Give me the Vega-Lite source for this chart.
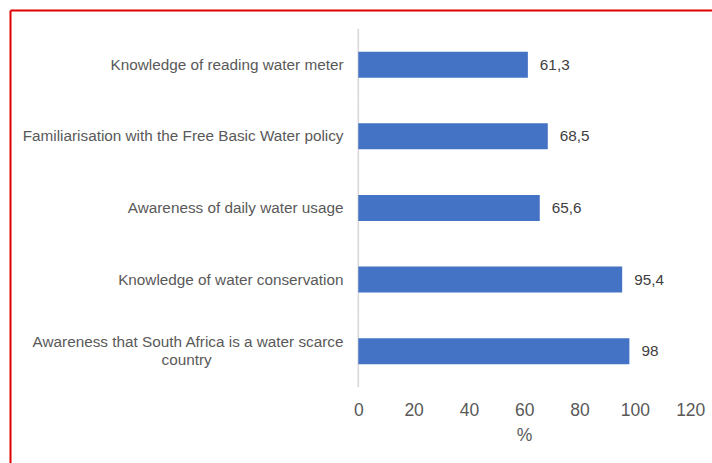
{
  "$schema": "https://vega.github.io/schema/vega-lite/v6.json",
  "autosize": "none",
  "padding": {"left": 10, "top": 10, "right": 0, "bottom": 0},
  "width": 702,
  "height": 453,
  "background": "white",
  "config": {
    "view": {"stroke": null},
    "font": "Liberation Sans",
    "locale": {"number": {"decimal": ",", "thousands": ".", "grouping": [3], "currency": ["", ""]}}
  },
  "data": {
    "values": [
      {"item": "Knowledge of reading water meter", "value": 61.3},
      {"item": "Familiarisation with the Free Basic Water policy", "value": 68.5},
      {"item": "Awareness of daily water usage", "value": 65.6},
      {"item": "Knowledge of water conservation", "value": 95.4},
      {"item": "Awareness that South Africa is a water scarce country", "value": 98}
    ]
  },
  "resolve": {"axis": {"x": "independent"}},
  "layer": [
    {
      "mark": {"type": "tick", "color": "#d9d9d9", "thickness": 1.6, "size": 71.8, "opacity": 1},
      "encoding": {
        "x": {
          "datum": 0,
          "type": "quantitative",
          "scale": {"domain": [-125.92, 127.87], "nice": false, "zero": false},
          "axis": {"orient": "top", "domain": true, "domainColor": "#e00000", "domainWidth": 2, "labels": false, "ticks": false, "grid": false, "title": null}
        },
        "y": {
          "field": "item",
          "type": "nominal",
          "sort": null,
          "scale": {"paddingInner": 0.637, "paddingOuter": 0.982, "align": 0.297},
          "axis": {
            "title": null,
            "domain": true,
            "domainColor": "#e00000",
            "domainWidth": 2,
            "ticks": false,
            "tickSize": 0,
            "labelPadding": -333,
            "labelAlign": "right",
            "labelBaseline": "middle",
            "labelFont": "Liberation Sans",
            "labelFontSize": 15.3,
            "labelColor": "#595959",
            "labelLimit": 400,
            "labelLineHeight": 18,
            "labelOffset": {"condition": {"test": "indexof(datum.value, 'scarce') >= 0", "value": -9}, "value": 0},
            "labelExpr": "indexof(datum.value, 'scarce') >= 0 ? ['Awareness that South Africa is a water scarce', 'country\u00a0\u00a0\u00a0\u00a0\u00a0\u00a0\u00a0\u00a0\u00a0\u00a0\u00a0\u00a0\u00a0\u00a0\u00a0\u00a0\u00a0\u00a0\u00a0\u00a0\u00a0\u00a0\u00a0\u00a0\u00a0\u00a0\u00a0\u00a0\u00a0\u00a0\u00a0\u200b'] : datum.value"
          }
        }
      }
    },
    {
      "mark": {"type": "bar", "color": "#4472c4"},
      "encoding": {
        "x": {
          "field": "value",
          "type": "quantitative",
          "axis": {
            "orient": "bottom",
            "offset": -76,
            "values": [0, 20, 40, 60, 80, 100, 120],
            "domain": false,
            "ticks": false,
            "grid": false,
            "labelPadding": 14,
            "labelFont": "Liberation Sans",
            "labelFontSize": 17.5,
            "labelColor": "#595959",
            "title": "%",
            "titleX": 514,
            "titleAlign": "center",
            "titleFont": "Liberation Sans",
            "titleFontSize": 17.5,
            "titleFontWeight": "normal",
            "titleColor": "#595959",
            "titlePadding": 8
          }
        },
        "y": {"field": "item", "type": "nominal", "sort": null}
      }
    },
    {
      "mark": {"type": "text", "align": "left", "baseline": "middle", "dx": 12, "fontSize": 15.3, "color": "#404040", "font": "Liberation Sans"},
      "encoding": {
        "x": {"field": "value", "type": "quantitative", "axis": null},
        "y": {"field": "item", "type": "nominal", "sort": null},
        "text": {"field": "value", "type": "quantitative"}
      }
    }
  ]
}
